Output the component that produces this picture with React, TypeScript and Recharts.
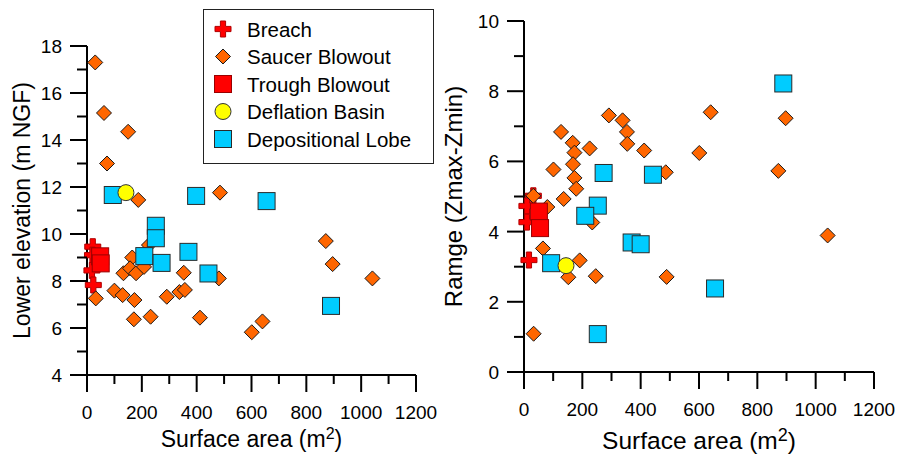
import React from 'react';
import { ScatterChart, Scatter, XAxis, YAxis, Label } from 'recharts';

const FONT = '"Liberation Sans", Arial, Helvetica, sans-serif';

// ---------- axis ticks ----------
const areaTicks = [0, 100, 200, 300, 400, 500, 600, 700, 800, 900, 1000, 1100, 1200];
const elevationTicks = [4, 5, 6, 7, 8, 9, 10, 11, 12, 13, 14, 15, 16, 17, 18];
const rangeTicks = [0, 1, 2, 3, 4, 5, 6, 7, 8, 9, 10];

// ---------- legend ----------
const legendLabels = ['Breach', 'Saucer Blowout', 'Trough Blowout', 'Deflation Basin', 'Depositional Lobe'];

// ---------- left panel: lower elevation (m NGF) vs surface area ----------
const breachElevation = [
  { area: 21, value: 9.46 },
  { area: 20, value: 9.1 },
  { area: 18, value: 8.45 },
  { area: 23, value: 7.83 },
];
const saucerElevation = [
  { area: 30, value: 17.3 }, { area: 62, value: 15.15 }, { area: 150, value: 14.35 },
  { area: 73, value: 13.0 }, { area: 187, value: 11.45 }, { area: 485, value: 11.76 },
  { area: 871, value: 9.7 }, { area: 896, value: 8.72 }, { area: 1041, value: 8.11 },
  { area: 601, value: 5.82 }, { area: 640, value: 6.28 }, { area: 412, value: 6.44 },
  { area: 481, value: 8.11 }, { area: 226, value: 9.53 }, { area: 165, value: 9.0 },
  { area: 133, value: 8.33 }, { area: 157, value: 8.54 }, { area: 179, value: 8.33 },
  { area: 208, value: 8.6 }, { area: 353, value: 8.35 }, { area: 100, value: 7.59 },
  { area: 130, value: 7.4 }, { area: 173, value: 7.19 }, { area: 291, value: 7.33 },
  { area: 337, value: 7.53 }, { area: 357, value: 7.62 }, { area: 32, value: 7.26 },
  { area: 171, value: 6.37 }, { area: 232, value: 6.48 },
];
const troughElevation = [
  { area: 48, value: 9.05 },
  { area: 50, value: 8.75 },
];
const deflationElevation = [{ area: 142, value: 11.76 }];
const lobeElevation = [
  { area: 94, value: 11.66 }, { area: 398, value: 11.62 }, { area: 655, value: 11.4 },
  { area: 251, value: 10.35 }, { area: 251, value: 9.82 }, { area: 209, value: 9.06 },
  { area: 272, value: 8.77 }, { area: 370, value: 9.24 }, { area: 443, value: 8.32 },
  { area: 890, value: 6.94 },
];

// ---------- right panel: range (Zmax-Zmin) vs surface area ----------
const breachRange = [
  { area: 32, value: 5.02 },
  { area: 10, value: 4.73 },
  { area: 10, value: 4.27 },
  { area: 17, value: 3.19 },
];
const saucerRange = [
  { area: 291, value: 7.31 }, { area: 338, value: 7.17 }, { area: 353, value: 6.84 },
  { area: 354, value: 6.5 }, { area: 412, value: 6.31 }, { area: 127, value: 6.84 },
  { area: 167, value: 6.53 }, { area: 173, value: 6.25 }, { area: 225, value: 6.37 },
  { area: 168, value: 5.92 }, { area: 101, value: 5.77 }, { area: 173, value: 5.53 },
  { area: 179, value: 5.22 }, { area: 136, value: 4.93 }, { area: 32, value: 5.02 },
  { area: 80, value: 4.7 }, { area: 486, value: 5.69 }, { area: 601, value: 6.24 },
  { area: 640, value: 7.4 }, { area: 897, value: 7.23 }, { area: 872, value: 5.73 },
  { area: 1041, value: 3.89 }, { area: 234, value: 4.26 }, { area: 65, value: 3.52 },
  { area: 191, value: 3.18 }, { area: 152, value: 2.7 }, { area: 246, value: 2.73 },
  { area: 489, value: 2.71 }, { area: 33, value: 1.09 },
];
const troughRange = [
  { area: 51, value: 4.57 },
  { area: 55, value: 4.1 },
];
const deflationRange = [{ area: 144, value: 3.03 }];
const lobeRange = [
  { area: 889, value: 8.22 }, { area: 273, value: 5.67 }, { area: 442, value: 5.62 },
  { area: 253, value: 4.74 }, { area: 210, value: 4.45 }, { area: 369, value: 3.69 },
  { area: 400, value: 3.64 }, { area: 93, value: 3.1 }, { area: 655, value: 2.38 },
  { area: 253, value: 1.08 },
];

// ---------- marker shapes ----------
const PlusMark = (p: any) => {
  const { cx, cy } = p;
  const a = 8;
  const w = 2.6;
  const d = `M${cx - w},${cy - a}H${cx + w}V${cy - w}H${cx + a}V${cy + w}H${cx + w}V${cy + a}H${cx - w}V${cy + w}H${cx - a}V${cy - w}H${cx - w}Z`;
  return <path d={d} fill="#FF0000" stroke="#B00000" strokeWidth={1} />;
};
const DiamondMark = (p: any) => {
  const { cx, cy } = p;
  const r = 7.5;
  const d = `M${cx},${cy - r}L${cx + r},${cy}L${cx},${cy + r}L${cx - r},${cy}Z`;
  return <path d={d} fill="#FF6600" stroke="#1a1a1a" strokeWidth={1} />;
};
const RedSquareMark = (p: any) => {
  const { cx, cy } = p;
  return <rect x={cx - 8.5} y={cy - 8.5} width={17} height={17} fill="#FF0000" stroke="#990000" strokeWidth={1} />;
};
const CyanSquareMark = (p: any) => {
  const { cx, cy } = p;
  return <rect x={cx - 8.5} y={cy - 8.5} width={17} height={17} fill="#00CCFF" stroke="#2a2a2a" strokeWidth={1} />;
};
const CircleMark = (p: any) => {
  const { cx, cy } = p;
  return <circle cx={cx} cy={cy} r={8} fill="#FFFF00" stroke="#333333" strokeWidth={1} />;
};

// ---------- ticks ----------
const XTick = (p: any) => {
  const { x, y, payload } = p;
  const v = payload.value;
  const major = v % 200 === 0;
  return (
    <g>
      <line x1={x} y1={y} x2={x} y2={y + (major ? 17 : 9)} stroke="#000" strokeWidth={2} />
      {major && (
        <text x={x} y={y + 44} textAnchor="middle" fontSize={19} fontFamily={FONT} fill="#000">
          {v}
        </text>
      )}
    </g>
  );
};
const makeYTick = (majorStep: number) => (p: any) => {
  const { x, y, payload } = p;
  const v = payload.value;
  const major = v % majorStep === 0;
  return (
    <g>
      <line x1={x} y1={y} x2={x - (major ? 17 : 10)} y2={y} stroke="#000" strokeWidth={2} />
      {major && (
        <text x={x - 25} y={y + 7} textAnchor="end" fontSize={19} fontFamily={FONT} fill="#000">
          {v}
        </text>
      )}
    </g>
  );
};
const YTick = makeYTick(2);

// ---------- titles ----------
const makeXTitle = (fs: number, supFs: number, dyBase: number) => (props: any) => {
  const vb = props.viewBox || {};
  const cx = vb.x + vb.width / 2;
  const y = vb.y + dyBase;
  return (
    <text x={cx} y={y} textAnchor="middle" fontSize={fs} fontFamily={FONT} fill="#000">
      Surface area (m
      <tspan fontSize={supFs} dy={-8}>2</tspan>
      <tspan dy={8}>)</tspan>
    </text>
  );
};
const makeYTitle = (text: string, fs: number, baseX: number) => (props: any) => {
  const vb = props.viewBox || {};
  const cy = vb.y + vb.height / 2;
  return (
    <text x={baseX} y={cy} transform={`rotate(-90, ${baseX}, ${cy})`} textAnchor="middle" fontSize={fs} fontFamily={FONT} fill="#000">
      {text}
    </text>
  );
};

const legendShapes = [PlusMark, DiamondMark, RedSquareMark, CircleMark, CyanSquareMark];

const LegendBox = () => (
  <svg width={240} height={160} style={{ position: 'absolute', left: 200, top: 6 }}>
    <rect x={3.5} y={3.5} width={230} height={154} fill="#fff" stroke="#222" strokeWidth={1} />
    {legendLabels.map((label, i) => {
      const cy = 23 + i * 27.5;
      const Shape = legendShapes[i];
      return (
        <g key={label}>
          <Shape cx={23} cy={cy} />
          <text x={47} y={cy + 7.5} fontSize={20.5} fontFamily={FONT} fill="#000">
            {label}
          </text>
        </g>
      );
    })}
  </svg>
);

export default function App() {
  return (
    <div style={{ position: 'absolute', left: 0, top: 0, width: 901, height: 459, background: '#fff', overflow: 'hidden' }}>
      <div style={{ position: 'absolute', left: 0, top: 0 }}>
        <ScatterChart width={450} height={459} margin={{ top: 46, right: 34, bottom: 0, left: 0 }}>
          <XAxis
            type="number"
            dataKey="area"
            domain={[0, 1200]}
            ticks={areaTicks}
            interval={0}
            tickSize={0}
            tickMargin={0}
            tickLine={false}
            tick={<XTick />}
            axisLine={{ stroke: '#000', strokeWidth: 2 }}
            height={84}
          >
            <Label content={makeXTitle(23, 16, 72)} />
          </XAxis>
          <YAxis
            type="number"
            dataKey="value"
            domain={[4, 18]}
            ticks={elevationTicks}
            interval={0}
            tickSize={0}
            tickMargin={0}
            tickLine={false}
            tick={<YTick />}
            axisLine={{ stroke: '#000', strokeWidth: 2 }}
            width={87}
          >
            <Label content={makeYTitle('Lower elevation (m NGF)', 23, 30)} />
          </YAxis>
          <Scatter data={breachElevation} shape={PlusMark} isAnimationActive={false} />
          <Scatter data={saucerElevation} shape={DiamondMark} isAnimationActive={false} />
          <Scatter data={lobeElevation} shape={CyanSquareMark} isAnimationActive={false} />
          <Scatter data={deflationElevation} shape={CircleMark} isAnimationActive={false} />
          <Scatter data={troughElevation} shape={RedSquareMark} isAnimationActive={false} />
        </ScatterChart>
      </div>
      <div style={{ position: 'absolute', left: 430, top: 0 }}>
        <ScatterChart width={471} height={459} margin={{ top: 21, right: 27, bottom: 0, left: 0 }}>
          <XAxis
            type="number"
            dataKey="area"
            domain={[0, 1200]}
            ticks={areaTicks}
            interval={0}
            tickSize={0}
            tickMargin={0}
            tickLine={false}
            tick={<XTick />}
            axisLine={{ stroke: '#000', strokeWidth: 2 }}
            height={87}
          >
            <Label content={makeXTitle(24.5, 18, 77)} />
          </XAxis>
          <YAxis
            type="number"
            dataKey="value"
            domain={[0, 10]}
            ticks={rangeTicks}
            interval={0}
            tickSize={0}
            tickMargin={0}
            tickLine={false}
            tick={<YTick />}
            axisLine={{ stroke: '#000', strokeWidth: 2 }}
            width={94}
          >
            <Label content={makeYTitle('Ramge (Zmax-Zmin)', 24, 32)} />
          </YAxis>
          <Scatter data={breachRange} shape={PlusMark} isAnimationActive={false} />
          <Scatter data={saucerRange} shape={DiamondMark} isAnimationActive={false} />
          <Scatter data={lobeRange} shape={CyanSquareMark} isAnimationActive={false} />
          <Scatter data={deflationRange} shape={CircleMark} isAnimationActive={false} />
          <Scatter data={troughRange} shape={RedSquareMark} isAnimationActive={false} />
        </ScatterChart>
      </div>
      <LegendBox />
    </div>
  );
}
